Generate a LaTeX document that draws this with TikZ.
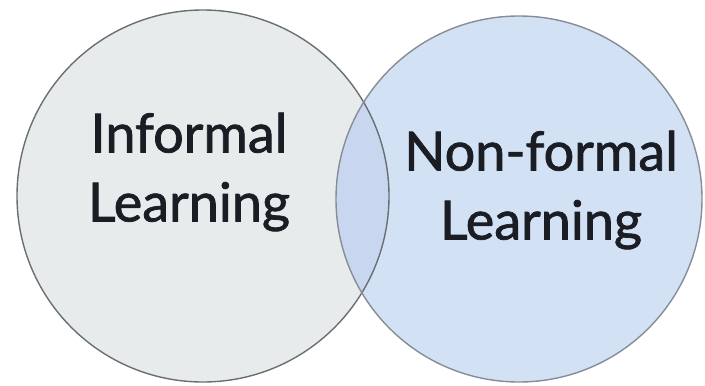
\documentclass[tikz,border=0pt]{standalone}
\usepackage{fontspec}
\setmainfont{Lato}[RawFeature={embolden=1.4}]
\definecolor{grayfill}{HTML}{E8EBEC}
\definecolor{bluefill}{HTML}{D3E1F5}
\definecolor{overlapfill}{HTML}{C8D7EF}
\definecolor{rimleft}{HTML}{6A6F74}
\definecolor{rimright}{HTML}{868D96}
\definecolor{inkdark}{HTML}{1A1E24}
\tikzset{
  setcircle/.style={circle, inner sep=0pt, line width=1.4pt},
  setlabel/.style={align=center, text=inkdark, font=\fontsize{54}{69}\selectfont}
}
\begin{document}
\begin{tikzpicture}[x=1pt,y=-1pt]
  \useasboundingbox (0,0) rectangle (705,386);
  % the two sets
  \node[setcircle, fill=grayfill, minimum size=372pt] (informal) at (203,196) {};
  \node[setcircle, fill=bluefill, minimum size=366pt] (nonformal) at (519,199) {};
  % overlap region
  \begin{scope}
    \clip (203,196) circle[radius=186];
    \fill[overlapfill] (519,199) circle[radius=183];
  \end{scope}
  % outlines
  \draw[rimleft, line width=1.4pt] (informal.center) circle[radius=186];
  \draw[rimright, line width=1.4pt] (nonformal.center) circle[radius=183];
  % labels
  \node[setlabel] (informaltext) at (189,172) {Informal\\Learning};
  \node[setlabel] (nonformaltext) at (541,190) {Non-formal\\Learning};
\end{tikzpicture}
\end{document}
